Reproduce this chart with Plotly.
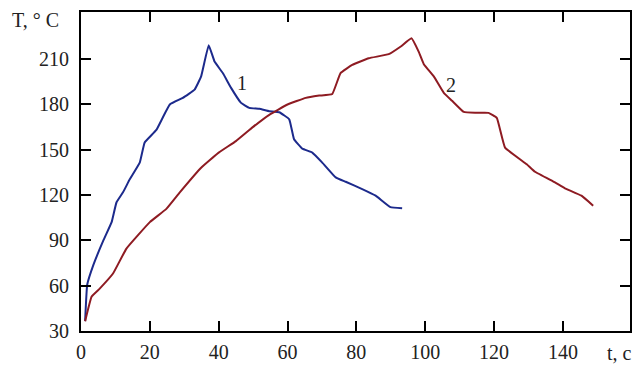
import plotly.graph_objects as go

# Curve 1 (blue)
t1 = [1.2, 1.8, 3.6, 6.5, 8.9, 10.3, 12.2, 14.2, 17.1, 18.5, 21.9, 25.8, 29.6, 33.0,
      34.9, 37.1, 38.8, 41.2, 43.6, 46.5, 48.9, 51.8, 54.7, 57.6, 60.5, 61.9, 64.3,
      67.2, 70.1, 74.0, 76.9, 81.7, 85.6, 89.9, 93.3]
T1 = [36.5, 60.6, 73.7, 89.9, 102, 115, 121.7, 130.5, 141.6, 154.7, 163, 179.8, 184.2,
      189.6, 198.4, 219, 208.2, 200.6, 190.8, 180.9, 177.6, 177, 175.4, 174.7, 170,
      156.8, 150.6, 148, 141.4, 131.6, 128.7, 123.9, 119.5, 111.9, 111.2]

# Curve 2 (red)
t2 = [1.2, 3.1, 5.5, 9.3, 13.2, 20.0, 24.8, 28.7, 34.9, 40.0, 45.0, 50.0, 54.7, 60.0,
      65.3, 69.2, 73.0, 75.4, 78.8, 83.6, 89.4, 92.8, 96.0, 98.1, 99.6, 102.5, 105.4,
      107.8, 111.2, 114.5, 118.4, 120.8, 123.2, 129.5, 131.9, 137.7, 140.6, 145.4, 148.8]
T2 = [36.5, 52.8, 58.2, 68, 84.5, 102, 110.8, 121.7, 138, 148, 155.6, 165, 173, 179.8,
      184.2, 185.7, 186.8, 200.6, 206, 210.4, 213.1, 218, 223.6, 214.8, 206.5, 198.4,
      187.5, 182.3, 174.9, 174.3, 174.3, 171, 151.3, 140.3, 135.3, 128.3, 124.4,
      119.5, 112.9]

x_ticks = [0, 20, 40, 60, 80, 100, 120, 140]
y_ticks = [30, 60, 90, 120, 150, 180, 210]

FONT = "Liberation Serif"

fig = go.Figure()
fig.add_trace(go.Scatter(x=t1, y=T1, mode="lines",
                         line=dict(color="#1c2a8c", width=2, shape="spline", smoothing=0.3)))
fig.add_trace(go.Scatter(x=t2, y=T2, mode="lines",
                         line=dict(color="#8e1b22", width=2, shape="spline", smoothing=0.3)))

axis_common = dict(showline=True, linecolor="black", linewidth=2, mirror="ticks",
                   ticks="inside", ticklen=10, tickwidth=2, tickcolor="black",
                   showgrid=False, zeroline=False,
                   tickfont=dict(family=FONT, size=20, color="#222"))

fig.update_xaxes(range=[0, 159.5], tickvals=x_ticks, ticklabelstandoff=2, **axis_common)
fig.update_yaxes(range=[30, 241], tickvals=y_ticks, ticklabelstandoff=6, **axis_common)

fig.add_annotation(x=46.8, y=194, text="1", showarrow=False,
                   font=dict(family=FONT, size=20, color="#222"))
fig.add_annotation(x=107.6, y=193, text="2", showarrow=False,
                   font=dict(family=FONT, size=20, color="#222"))
fig.add_annotation(xref="paper", yref="paper", x=-0.13, y=0.975, xanchor="left",
                   yanchor="middle", text="T, ° C", showarrow=False,
                   font=dict(family=FONT, size=20, color="#222"))
fig.add_annotation(xref="paper", yref="paper", x=0.954, y=-0.068, xanchor="left",
                   yanchor="middle", text="t, c", showarrow=False,
                   font=dict(family=FONT, size=20, color="#222"))

fig.update_layout(width=636, height=367, margin=dict(l=81, r=4, t=12, b=34),
                  paper_bgcolor="white", plot_bgcolor="white", showlegend=False)

fig.write_html("out.html", config={"displayModeBar": False},
               post_script="document.body.style.margin='0px';document.body.style.overflow='hidden';")
